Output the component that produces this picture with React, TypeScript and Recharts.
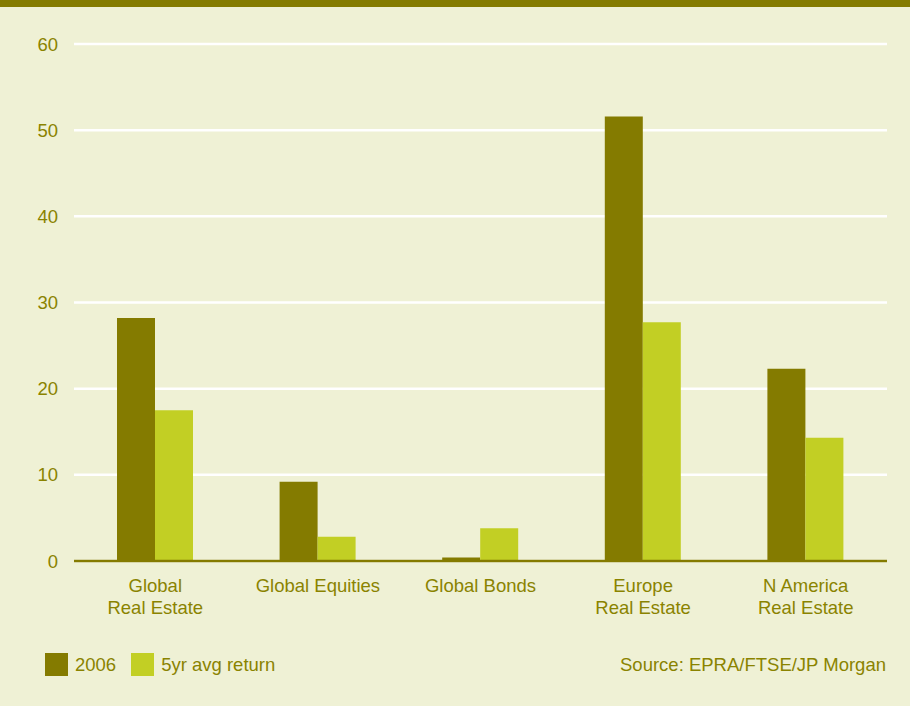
import { BarChart, Bar, XAxis, YAxis, CartesianGrid } from "recharts";

const categories = ["Global\nReal Estate", "Global Equities", "Global Bonds", "Europe\nReal Estate", "N America\nReal Estate"];
const returns2006 = [28.2, 9.2, 0.4, 51.6, 22.3];
const avg5yr = [17.5, 2.8, 3.8, 27.7, 14.3];
const yTicks = [0, 10, 20, 30, 40, 50, 60];

const OLIVE = "#847b00";
const LIME = "#c2cf24";
const TEXT = "#8a8300";
const BG = "#eff1d5";
const FONT = "'Liberation Sans', Arial, Helvetica, sans-serif";

const data = categories.map((name, i) => ({
  name,
  y2006: returns2006[i],
  avg: avg5yr[i],
}));

const CategoryTick = ({ x, y, payload }: any) => {
  const lines = String(payload.value).split("\n");
  return (
    <text x={x} y={y} textAnchor="middle" fill={TEXT} fontSize={18.5} fontFamily={FONT}>
      {lines.map((line, i) => (
        <tspan key={i} x={x} dy={i === 0 ? 23 : 22}>
          {line}
        </tspan>
      ))}
    </text>
  );
};

const App = () => {
  return (
    <div style={{ position: "absolute", left: 0, top: 0, width: 910, height: 706, background: BG, fontFamily: FONT }}>
      <div style={{ position: "absolute", left: 0, top: 0, width: 910, height: 7, background: OLIVE }} />
      <div style={{ position: "absolute", left: 0, top: 0 }}>
        <BarChart width={910} height={640} data={data} margin={{ top: 44, right: 23, left: 0, bottom: 19 }} barGap={0}>
          <CartesianGrid vertical={false} stroke="#ffffff" strokeWidth={2.5} />
          <XAxis
            dataKey="name"
            height={60}
            tick={<CategoryTick />}
            tickLine={false}
            axisLine={{ stroke: OLIVE, strokeWidth: 2.5 }}
            interval={0}
          />
          <YAxis
            width={74}
            domain={[0, 60]}
            ticks={yTicks}
            axisLine={false}
            tickLine={false}
            tickMargin={10}
            tick={{ fill: TEXT, fontSize: 18.5, fontFamily: FONT }}
          />
          <Bar dataKey="y2006" fill={OLIVE} barSize={38} isAnimationActive={false} />
          <Bar dataKey="avg" fill={LIME} barSize={38} isAnimationActive={false} />
        </BarChart>
      </div>
      <div style={{ position: "absolute", left: 45, top: 653, display: "flex", alignItems: "center", fontSize: 18.5, color: TEXT }}>
        <div style={{ width: 23, height: 23, background: OLIVE }} />
        <span style={{ marginLeft: 7 }}>2006</span>
        <div style={{ width: 23, height: 23, background: LIME, marginLeft: 15 }} />
        <span style={{ marginLeft: 7 }}>5yr avg return</span>
      </div>
      <div style={{ position: "absolute", right: 24, top: 653, height: 23, lineHeight: "23px", fontSize: 18.5, color: TEXT }}>
        Source: EPRA/FTSE/JP Morgan
      </div>
    </div>
  );
};

export default App;
